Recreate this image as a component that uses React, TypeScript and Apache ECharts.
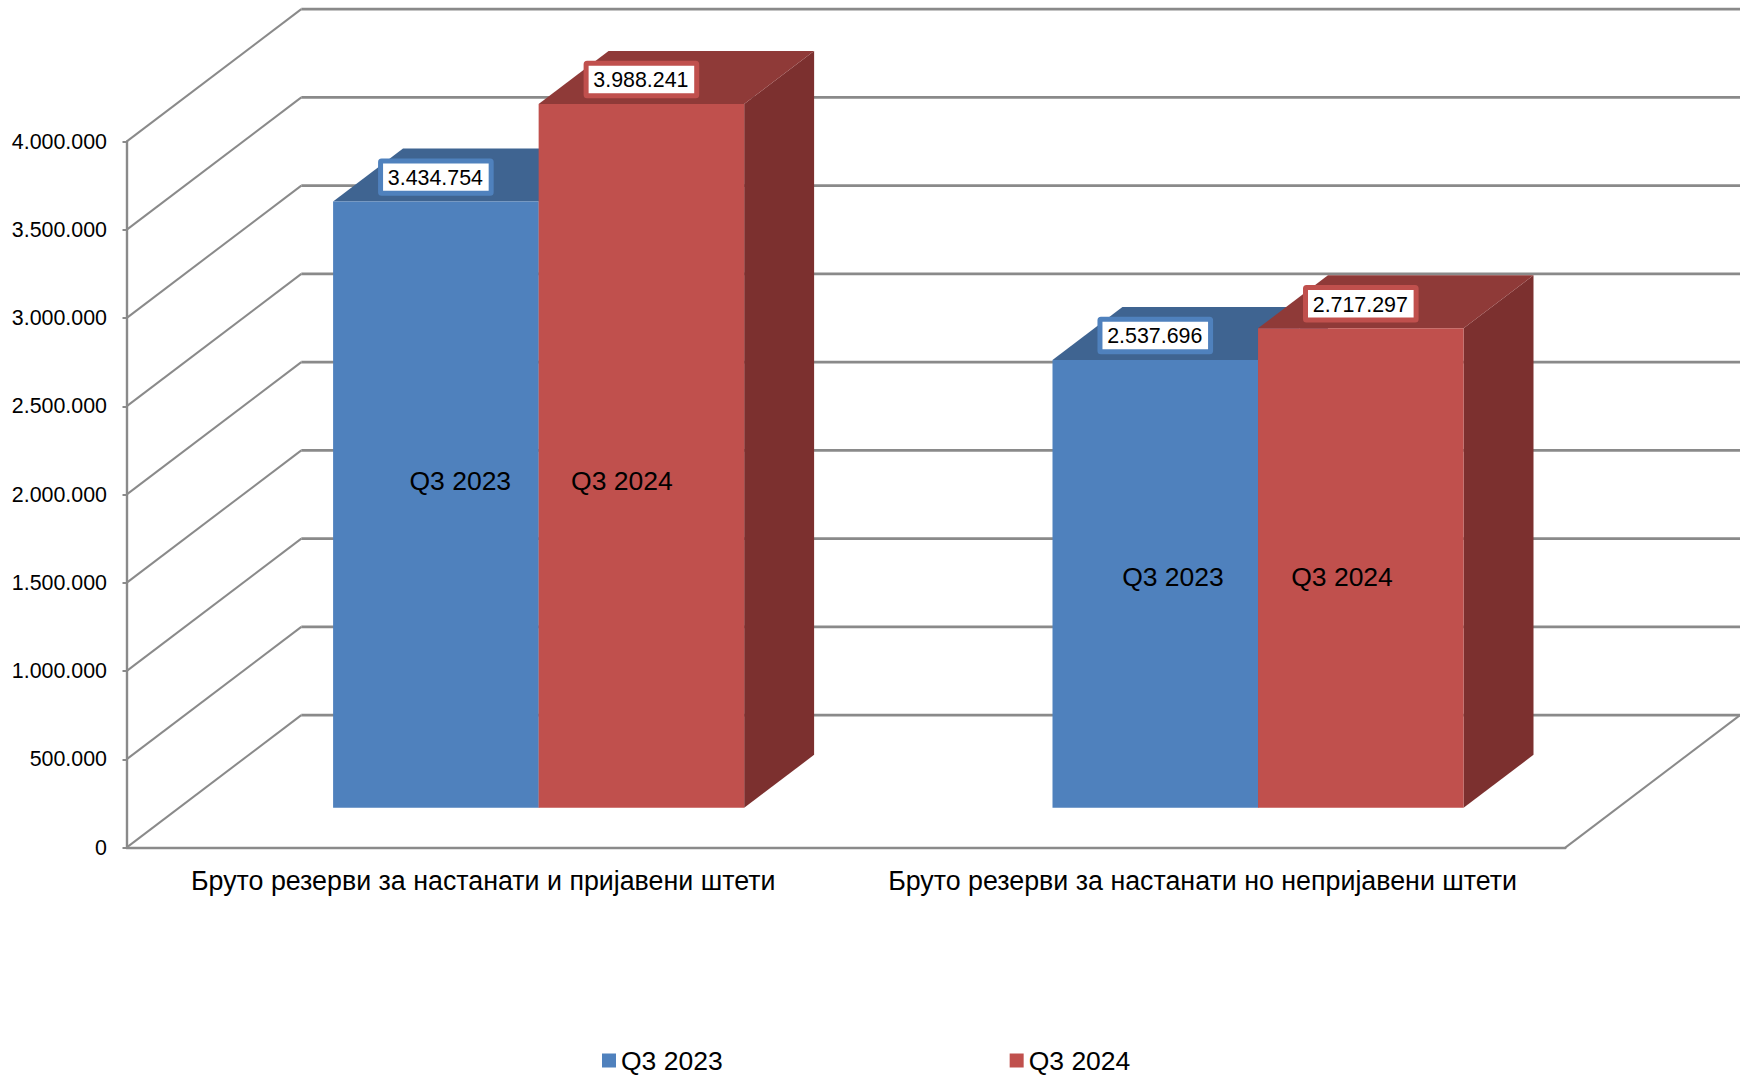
import React, { useEffect, useRef } from "react";
import * as echarts from "echarts";

const categories = [
  "Бруто резерви за настанати и пријавени штети",
  "Бруто резерви за настанати но непријавени штети",
];
const seriesNames = ["Q3 2023", "Q3 2024"];
const q3_2023 = [3434754, 2537696];
const q3_2024 = [3988241, 2717297];
const yTicks = [0, 500000, 1000000, 1500000, 2000000, 2500000, 3000000, 3500000, 4000000];

const FONT = '"Liberation Sans", Arial, sans-serif';
const GRID_COLOR = "#8A8A8A";
const FRONT = ["#4F81BD", "#C0504D"];
const TOP = ["#3F6491", "#8F3A38"];
const SIDE = ["#385A85", "#7C302F"];

// Oblique projection of the floor: how far the back wall sits from the front plane.
const DEPTH_X = 174.8;
const DEPTH_Y = 132.5;
const BAR_DEPTH_START = 0.3;
const BAR_DEPTH_END = 0.7;
const GAP_BANDS = 3.5;
const BACK_RIGHT = 1740;
// Horizontal shift of the series-name labels from their bar's centre, per category and series.
const NAME_SHIFT = [
  [24.4, -19.5],
  [17.7, -18.8],
];

const fmt = (v: number) => String(v).replace(/\B(?=(\d{3})+$)/g, ".");
const num = (v: number) => (typeof v === "number" ? v : Number(v));

function wallItem(_p: any, api: any) {
  const value = num(api.value(0));
  const [x0, y0] = api.coord([0, value]);
  const left = x0 - api.size([1, 0])[0] / 2;
  const style = { stroke: GRID_COLOR, lineWidth: 2, fill: "none" };
  const children: any[] = [
    {
      type: "line",
      shape: { x1: left, y1: y0, x2: left + DEPTH_X, y2: y0 - DEPTH_Y },
      style,
    },
    {
      type: "line",
      shape: { x1: left + DEPTH_X, y1: y0 - DEPTH_Y, x2: BACK_RIGHT, y2: y0 - DEPTH_Y },
      style: { ...style, lineWidth: 2.6 },
    },
  ];
  if (value === 0) {
    const right = left + api.size([1, 0])[0] * 2;
    children.push({
      type: "line",
      shape: { x1: right, y1: y0, x2: right + DEPTH_X, y2: y0 - DEPTH_Y },
      style,
    });
  }
  return { type: "group", children };
}

function barItem(seriesIndex: number) {
  return (_p: any, api: any) => {
    const cat = num(api.value(0));
    const value = num(api.value(1));
    const band = api.size([1, 0])[0];
    const w = band / GAP_BANDS;
    const [cx, topY] = api.coord([cat, value]);
    const [, baseY] = api.coord([cat, 0]);
    const fx = DEPTH_X * BAR_DEPTH_START;
    const fy = DEPTH_Y * BAR_DEPTH_START;
    const dx = DEPTH_X * (BAR_DEPTH_END - BAR_DEPTH_START);
    const dy = DEPTH_Y * (BAR_DEPTH_END - BAR_DEPTH_START);
    const x0 = cx + fx + (seriesIndex - 1) * w;
    const x1 = x0 + w;
    const yTop = topY - fy;
    const yBase = baseY - fy;
    const color = FRONT[seriesIndex];

    const groupMean = (q3_2023[cat] + q3_2024[cat]) / 4;
    const nameY = api.coord([cat, groupMean])[1] - fy + 0.6;
    const nameX = (x0 + x1) / 2 + NAME_SHIFT[cat][seriesIndex];
    const labelX = (x0 + x1) / 2;
    const labelY = yTop - dy / 2 + 2;

    return {
      type: "group",
      children: [
        {
          type: "polygon",
          shape: { points: [[x1, yTop], [x1 + dx, yTop - dy], [x1 + dx, yBase - dy], [x1, yBase]] },
          style: { fill: SIDE[seriesIndex] },
        },
        {
          type: "polygon",
          shape: { points: [[x0, yTop], [x0 + dx, yTop - dy], [x1 + dx, yTop - dy], [x1, yTop]] },
          style: { fill: TOP[seriesIndex] },
        },
        {
          type: "rect",
          shape: { x: x0, y: yTop, width: w, height: yBase - yTop },
          style: { fill: color },
        },
        {
          type: "text",
          x: nameX,
          y: nameY,
          style: {
            text: seriesNames[seriesIndex],
            fill: "#000",
            fontSize: 26.5,
            fontFamily: FONT,
            align: "center",
            verticalAlign: "middle",
          },
        },
        {
          type: "rect",
          shape: { x: labelX - 55.3, y: labelY - 16.2, width: 110.6, height: 32.4, r: 1 },
          style: { fill: "#fff", stroke: color, lineWidth: 5 },
        },
        {
          type: "text",
          x: labelX - 0.5,
          y: labelY + 1,
          style: {
            text: fmt(value),
            fill: "#000",
            fontSize: 21.4,
            fontFamily: FONT,
            align: "center",
            verticalAlign: "middle",
          },
        },
      ],
    };
  };
}

export default function App() {
  const ref = useRef<HTMLDivElement>(null);

  useEffect(() => {
    if (!ref.current) return;
    const chart = echarts.init(ref.current, undefined, { renderer: "svg" });
    chart.setOption({
      animation: false,
      backgroundColor: "#fff",
      textStyle: { fontFamily: FONT, color: "#000" },
      grid: { left: 126.5, top: 141.6, width: 1438.8, height: 706, containLabel: false },
      xAxis: {
        type: "category",
        data: categories,
        boundaryGap: true,
        axisLine: { show: true, lineStyle: { color: GRID_COLOR, width: 2.4 } },
        axisTick: { show: false },
        axisLabel: {
          show: true,
          interval: 0,
          margin: 19.5,
          padding: [0, 6, 0, 0],
          color: "#000",
          fontFamily: FONT,
          fontSize: 26.8,
        },
      },
      yAxis: {
        type: "value",
        min: 0,
        max: 4000000,
        interval: 500000,
        splitLine: { show: false },
        axisLine: { show: true, lineStyle: { color: GRID_COLOR, width: 2.4 } },
        axisTick: { show: true, length: 4, lineStyle: { color: GRID_COLOR, width: 2 } },
        axisLabel: {
          margin: 19.5,
          padding: [3, 0, 0, 0],
          color: "#000",
          fontFamily: FONT,
          fontSize: 21.4,
          formatter: (v: number) => fmt(v),
        },
      },
      legend: {
        data: seriesNames,
        left: 602,
        top: 1047,
        padding: 0,
        itemWidth: 14,
        itemHeight: 14,
        itemGap: 287,
        icon: "rect",
        textStyle: { color: "#000", fontFamily: FONT, fontSize: 26.5 },
      },
      series: [
        {
          name: "walls",
          type: "custom",
          silent: true,
          z: 1,
          renderItem: wallItem,
          encode: { y: 0 },
          data: yTicks.map((v) => [v]),
        },
        {
          name: seriesNames[0],
          type: "custom",
          z: 2,
          itemStyle: { color: FRONT[0] },
          encode: { x: 0, y: 1 },
          renderItem: barItem(0),
          data: q3_2023.map((v, i) => [i, v]),
        },
        {
          name: seriesNames[1],
          type: "custom",
          z: 3,
          itemStyle: { color: FRONT[1] },
          encode: { x: 0, y: 1 },
          renderItem: barItem(1),
          data: q3_2024.map((v, i) => [i, v]),
        },
      ],
    });
    return () => chart.dispose();
  }, []);

  return (
    <div
      ref={ref}
      style={{ position: "fixed", left: 0, top: 0, width: 1740, height: 1077, overflow: "hidden" }}
    />
  );
}
